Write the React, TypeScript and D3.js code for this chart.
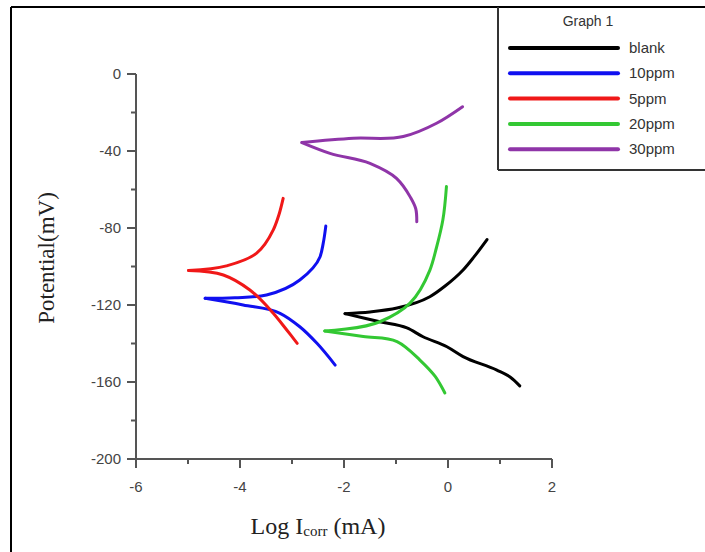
import { useMemo } from "react";
import * as d3 from "d3";

type Pt = [number, number];

// polarization curves: [log Icorr (mA), potential (mV)], traced from one end through the tip to the other
const blank: Pt[] = [
  [0.75, -86], [0.5, -95], [0.29, -101.8], [-0.05, -110], [-0.35, -115.7], [-0.98, -121.6], [-1.5, -123.6], [-1.98, -124.5],
  [-1.31, -128.7], [-0.79, -131.9], [-0.48, -136.5], [-0.02, -141.7], [0.29, -146.8], [0.94, -153.8], [1.2, -157.5], [1.38, -162],
];
const ppm10: Pt[] = [
  [-2.35, -79], [-2.4, -88], [-2.46, -94.9], [-2.85, -107], [-3.49, -114.8], [-4.1, -116.2], [-4.67, -116.5],
  [-3.94, -120], [-3.23, -124.3], [-2.85, -131.3], [-2.52, -139.9], [-2.17, -151.2],
];
const ppm5: Pt[] = [
  [-3.17, -64.6], [-3.25, -73], [-3.36, -81], [-3.68, -93.1], [-4.26, -99.7], [-4.99, -102.1],
  [-4.32, -104.4], [-3.81, -112.2], [-3.36, -124.3], [-3.1, -133], [-2.9, -139.9],
];
const ppm20: Pt[] = [
  [-0.03, -58.5], [-0.1, -76], [-0.22, -90], [-0.35, -102], [-0.73, -119], [-1.31, -128.7], [-2.37, -133.5],
  [-1.63, -136.4], [-0.98, -139], [-0.54, -148.6], [-0.25, -157], [-0.06, -165.7],
];
const ppm30: Pt[] = [
  [0.28, -17], [-0.22, -25.6], [-0.86, -32.5], [-1.82, -33.4], [-2.81, -35.6],
  [-2.27, -41.2], [-1.5, -46.4], [-0.99, -54.2], [-0.73, -63.7], [-0.62, -70], [-0.6, -76.7],
];

const seriesNames = ["blank", "10ppm", "5ppm", "20ppm", "30ppm"];
const seriesColors = ["#000000", "#1010f0", "#f01818", "#33c833", "#8f35a8"];
const seriesData = [blank, ppm10, ppm5, ppm20, ppm30];

const xTicks = [-6, -4, -2, 0, 2];
const xMinor = [-5, -3, -1, 1];
const yTicks = [0, -40, -80, -120, -160, -200];
const yMinor = [-20, -60, -100, -140, -180];

// split a curve at its leftmost point (the corrosion tip) so each branch is smoothed on its own
function branches(d: Pt[]): Pt[][] {
  const tip = d3.minIndex(d, (p) => p[0]);
  return [d.slice(0, tip + 1), d.slice(tip)];
}

export default function App() {
  const W = 705;
  const H = 552;
  const x = useMemo(() => d3.scaleLinear().domain([-6, 2]).range([136, 552]), []);
  const y = useMemo(() => d3.scaleLinear().domain([0, -200]).range([74, 459]), []);
  const line = d3
    .line<Pt>()
    .x((d) => x(d[0]))
    .y((d) => y(d[1]))
    .curve(d3.curveCatmullRom.alpha(1));

  const axisColor = "#555";
  const tickFont = "'Liberation Sans', Arial, sans-serif";
  const titleFont = "'Liberation Serif', 'Times New Roman', serif";

  return (
    <div>
      <style>{"body{margin:0}"}</style>
      <svg width={W} height={H} style={{ display: "block", background: "#fff" }}>
        {/* outer frame */}
        <line x1={11} x2={W} y1={7} y2={7} stroke="#000" strokeWidth={2} />
        <line x1={11} x2={11} y1={7} y2={H} stroke="#000" strokeWidth={2} />

        {/* series */}
        {seriesData.map((d, i) =>
          branches(d).map((b, j) => (
            <path key={`${i}-${j}`} d={line(b) ?? ""} fill="none" stroke={seriesColors[i]} strokeWidth={3}
              strokeLinejoin="round" strokeLinecap="round" />
          ))
        )}

        {/* y axis */}
        <line x1={x(-6)} x2={x(-6)} y1={y(0)} y2={y(-200)} stroke={axisColor} strokeWidth={2} />
        {yTicks.map((t) => (
          <g key={t}>
            <line x1={x(-6) - 9} x2={x(-6)} y1={y(t)} y2={y(t)} stroke={axisColor} strokeWidth={2} />
            <text x={x(-6) - 15} y={y(t) + 5} textAnchor="end" fontFamily={tickFont} fontSize={15}
              fill="#444">{t}</text>
          </g>
        ))}
        {yMinor.map((t) => (
          <line key={t} x1={x(-6) - 5} x2={x(-6)} y1={y(t)} y2={y(t)} stroke={axisColor} strokeWidth={2} />
        ))}

        {/* x axis */}
        <line x1={x(-6)} x2={x(2)} y1={y(-200)} y2={y(-200)} stroke={axisColor} strokeWidth={2} />
        {xTicks.map((t) => (
          <g key={t}>
            <line x1={x(t)} x2={x(t)} y1={y(-200)} y2={y(-200) + 9} stroke={axisColor} strokeWidth={2} />
            <text x={x(t)} y={y(-200) + 33} textAnchor="middle" fontFamily={tickFont} fontSize={15}
              fill="#444">{t}</text>
          </g>
        ))}
        {xMinor.map((t) => (
          <line key={t} x1={x(t)} x2={x(t)} y1={y(-200)} y2={y(-200) + 5} stroke={axisColor} strokeWidth={2} />
        ))}

        {/* axis titles */}
        <text x={318} y={534} textAnchor="middle" fontFamily={titleFont} fontSize={24} fill="#222">
          Log I<tspan fontSize={15} dy={2}>corr</tspan><tspan dy={-2}> (mA)</tspan>
        </text>
        <text transform="translate(54,258) rotate(-90)" textAnchor="middle" fontFamily={titleFont}
          fontSize={23} fill="#222">
          Potential(mV)
        </text>

        {/* legend */}
        <line x1={498} x2={498} y1={7} y2={170} stroke="#333" strokeWidth={2} />
        <line x1={498} x2={W} y1={170} y2={170} stroke="#333" strokeWidth={2} />
        <text x={588} y={26} textAnchor="middle" fontFamily={tickFont} fontSize={14} fill="#333">Graph 1</text>
        {seriesNames.map((n, i) => (
          <g key={n} transform={`translate(0,${48 + i * 25.3})`}>
            <line x1={510} x2={618} y1={0} y2={0} stroke={seriesColors[i]} strokeWidth={4} strokeLinecap="round" />
            <text x={629} y={5} fontFamily={tickFont} fontSize={15} fill="#333">{n}</text>
          </g>
        ))}
      </svg>
    </div>
  );
}
